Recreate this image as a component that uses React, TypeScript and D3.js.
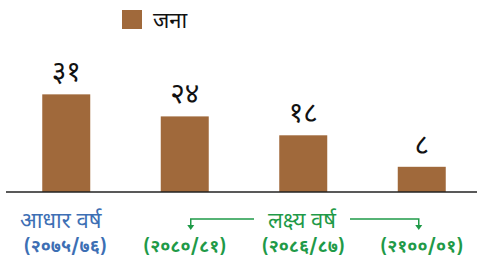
import React from "react";
import * as d3 from "d3";

const years = ["base", "t1", "t2", "t3"];
const values = [31, 24, 18, 8];
const valueLabels = ["३१", "२४", "१८", "८"];
const yearLabels = ["(२०७५/७६)", "(२०८०/८१)", "(२०८६/८७)", "(२१००/०१)"];
const seriesName = "जना";
const baseTitle = "आधार वर्ष";
const targetTitle = "लक्ष्य वर्ष";

const W = 477;
const H = 261;
const BAR = "#a0693b";
const BLUE = "#3d6fb4";
const GREEN = "#1f9a48";
const FONT = "'Noto Sans Devanagari', 'Noto Sans', Lato, sans-serif";

const App = () => {
  const x = d3
    .scaleBand()
    .domain(years)
    .range([7, 481])
    .paddingInner(0.595)
    .paddingOuter(0.2975);
  const y = d3.scaleLinear().domain([0, 40]).range([192, 66]);
  const cx = (i: number) => (x(years[i]) as number) + x.bandwidth() / 2;

  const lineY = 219;
  const leftX = cx(1) + 6;
  const rightX = cx(3) - 3;

  return (
    <svg
      width={W}
      height={H}
      style={{ position: "absolute", left: 0, top: 0, fontFamily: FONT }}
    >
      {/* legend */}
      <rect x={122} y={10} width={20} height={19} fill={BAR} />
      <text x={153} y={28} fontSize={22} fill="#111">
        {seriesName}
      </text>

      {values.map((v, i) => (
        <g key={years[i]}>
          <rect
            x={x(years[i])}
            y={y(v)}
            width={x.bandwidth()}
            height={y(0) - y(v)}
            fill={BAR}
          />
          <text
            x={cx(i)}
            y={y(v) - 13}
            textAnchor="middle"
            fontSize={28}
            fill="#111"
          >
            {valueLabels[i]}
          </text>
        </g>
      ))}

      <line x1={6} x2={477} y1={192} y2={192} stroke="#222" strokeWidth={1.5} />

      {/* base year title */}
      <text x={20} y={228} fontSize={22} fill={BLUE}>
        {baseTitle}
      </text>

      {/* target bracket */}
      <text x={302} y={228} fontSize={22} fill={GREEN} textAnchor="middle">
        {targetTitle}
      </text>
      <path
        d={`M${leftX},${lineY + 8} V${lineY} H254`}
        fill="none"
        stroke={GREEN}
        strokeWidth={1.5}
      />
      <path
        d={`M350,${lineY} H${rightX} V${lineY + 8}`}
        fill="none"
        stroke={GREEN}
        strokeWidth={1.5}
      />
      <path
        d={`M${leftX - 3.5},${lineY + 6} L${leftX + 3.5},${lineY + 6} L${leftX},${lineY + 11} Z`}
        fill={GREEN}
      />
      <path
        d={`M${rightX - 3.5},${lineY + 6} L${rightX + 3.5},${lineY + 6} L${rightX},${lineY + 11} Z`}
        fill={GREEN}
      />

      {yearLabels.map((t, i) => (
        <text
          key={t}
          x={cx(i) - (i === 0 ? 1 : 0)}
          y={252}
          textAnchor="middle"
          fontSize={18}
          fontWeight="bold"
          fill={i === 0 ? BLUE : GREEN}
        >
          {t}
        </text>
      ))}
    </svg>
  );
};

export default App;
